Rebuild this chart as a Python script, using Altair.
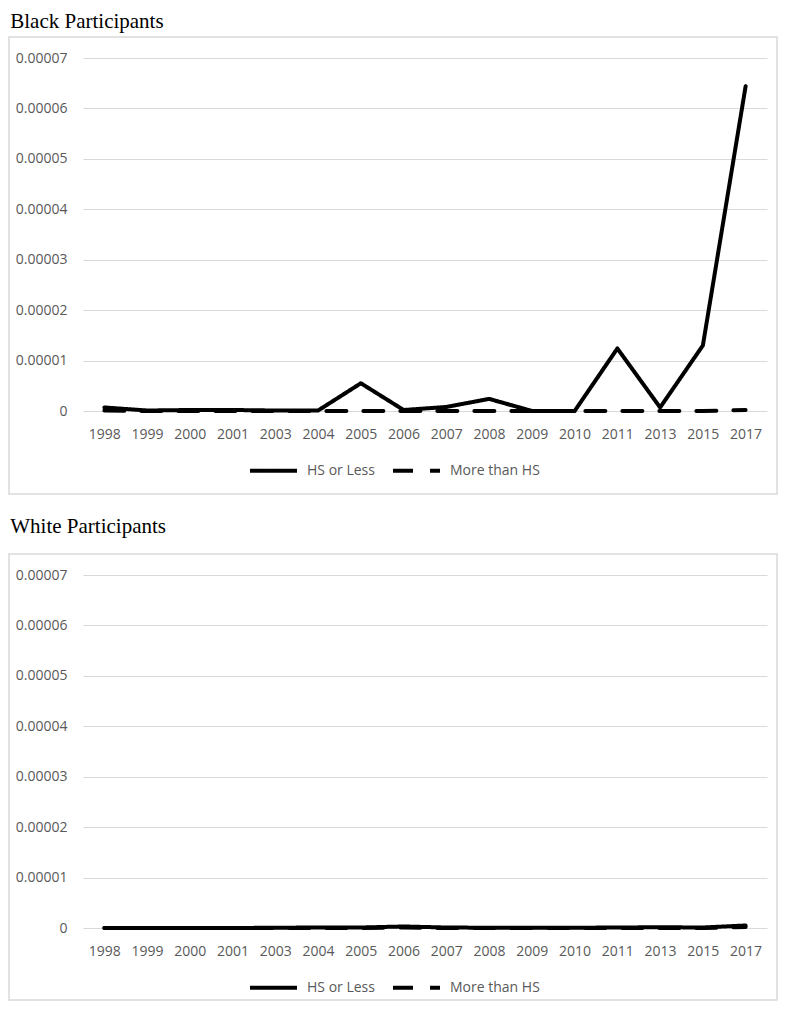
import altair as alt
import pandas as pd

years = ["1998", "1999", "2000", "2001", "2003", "2004", "2005", "2006",
         "2007", "2008", "2009", "2010", "2011", "2013", "2015", "2017"]
series_names = ["HS or Less", "More than HS"]

black_hs = [0.0000007, 0.0000001, 0.0000002, 0.0000002, 0.0000001, 0.0000001,
            0.0000055, 0.0000002, 0.0000008, 0.0000024, 0.0, 0.0,
            0.0000124, 0.0000007, 0.0000130, 0.0000644]
black_more = [0.0000001, 0.0, 0.0, 0.0, 0.0, 0.0, 0.0, 0.0,
              0.0, 0.0, 0.0, 0.0, 0.0, 0.0, 0.0, 0.0000002]

white_hs = [0.0, 0.0, 0.0, 0.0, 0.00000005, 0.0000001, 0.0000001, 0.0000003,
            0.0000001, 0.00000005, 0.00000005, 0.00000005, 0.0000001, 0.00000015,
            0.0000001, 0.0000005]
white_more = [0.0, 0.0, 0.0, 0.0, 0.0, 0.0, 0.0, 0.0000001,
              0.0, 0.0, 0.0, 0.0, 0.0, 0.0, 0.0, 0.0000002]

y_ticks = [0, 0.00001, 0.00002, 0.00003, 0.00004, 0.00005, 0.00006, 0.00007]

PW, PH = 684, 353
GRID = "#d9d9d9"
TXT = "#595959"
FONT = "Open Sans"


def panel(title, hs, more, title_offset, frame_bottom):
    df = pd.DataFrame({
        "year": years * 2,
        "series": [series_names[0]] * len(years) + [series_names[1]] * len(years),
        "value": hs + more,
    })
    frame = alt.Chart(pd.DataFrame({"f": [0]})).mark_rect(
        fill="transparent", stroke=GRID, strokeWidth=1.5
    ).encode(
        x=alt.value(-74), x2=alt.value(PW + 10), y=alt.value(-21),
        y2=alt.value(PH + frame_bottom)
    )
    lines = alt.Chart(df).mark_line(
        color="black", strokeWidth=4, strokeCap="round", strokeJoin="round"
    ).encode(
        x=alt.X("year:O", sort=years, title=None,
                scale=alt.Scale(type="point", padding=0.5),
                axis=alt.Axis(labelAngle=0, domain=False, ticks=False, grid=False,
                              labelPadding=16, labelFont=FONT, labelFontSize=14,
                              labelColor=TXT)),
        y=alt.Y("value:Q", title=None,
                scale=alt.Scale(domain=[0, 0.00007], nice=False),
                axis=alt.Axis(values=y_ticks, format="~f", domain=False, ticks=False,
                              gridColor=GRID, gridWidth=1, labelPadding=16,
                              labelFont=FONT, labelFontSize=14, labelColor=TXT)),
        strokeDash=alt.StrokeDash(
            "series:N",
            scale=alt.Scale(domain=series_names, range=[[1, 0], [20, 17]]),
            legend=alt.Legend(title=None, orient="none", direction="horizontal",
                              legendX=165, legendY=387, symbolType="stroke",
                              symbolSize=2209, symbolStrokeWidth=4,
                              symbolStrokeColor="black", labelOffset=8,
                              columnPadding=10, padding=0, labelFont=FONT,
                              labelFontSize=14, labelColor=TXT),
        ),
        order=alt.Order("series:N", sort="descending"),
    )
    return alt.layer(frame, lines).properties(
        width=PW, height=PH,
        title=alt.Title(title, font="Liberation Serif", fontSize=21,
                        fontWeight="normal", color="black", anchor="start",
                        baseline="top", frame="bounds", offset=title_offset, dx=2),
    )


chart = alt.vconcat(
    panel("Black Participants", black_hs, black_more, 4, 83),
    panel("White Participants", white_hs, white_more, 16, 72),
    spacing=21,
).resolve_legend(
    strokeDash="independent"
).resolve_scale(
    strokeDash="independent"
).properties(
    padding={"top": 3, "left": 0, "right": 0, "bottom": 0}
).configure_view(stroke=None)

chart.save("out.html", embed_options={"renderer": "svg", "actions": False})
